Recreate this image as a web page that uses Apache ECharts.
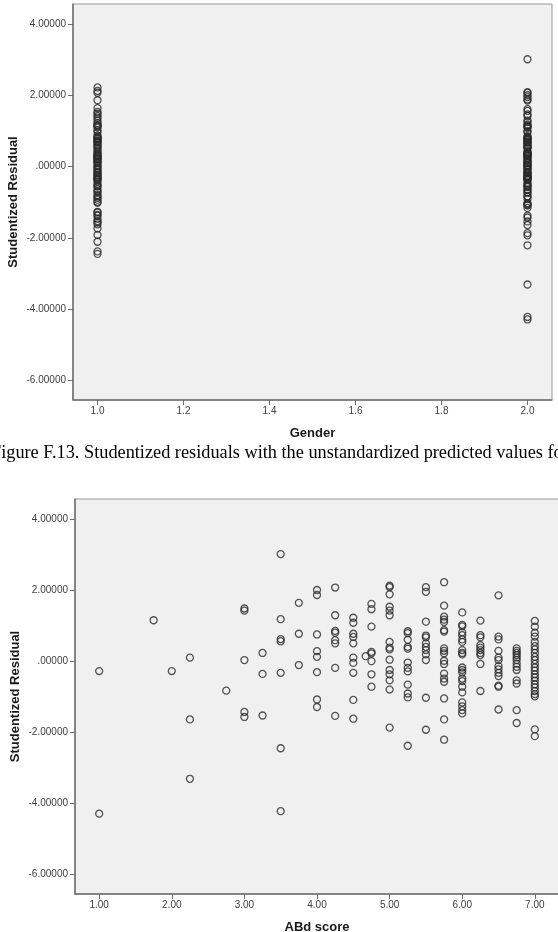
<!DOCTYPE html>
<html>
<head>
<meta charset="utf-8">
<title>Studentized residuals</title>
<script src="https://cdn.jsdelivr.net/npm/echarts@6.0.0/dist/echarts.min.js"></script>
<style>
  html, body { margin: 0; padding: 0; background: #fff; }
  #main { width: 558px; height: 932px; }
</style>
</head>
<body>
<div id="main"></div>
<script>
// top plot: residuals per gender
const genderOneResid = [2.22, 2.12, 2.07, 1.86, 1.64, 1.53, 1.48, 1.42, 1.37, 1.29, 1.22, 1.17, 1.15, 1.13, 1.10,
  1.02, 0.97, 0.87, 0.84, 0.80, 0.80, 0.77, 0.73, 0.72, 0.69, 0.67, 0.61, 0.59, 0.54, 0.50, 0.45, 0.40, 0.36,
  0.33, 0.31, 0.29, 0.26, 0.23, 0.22, 0.19, 0.14, 0.12, 0.10, 0.03, 0.01, -0.04, -0.08, -0.11, -0.16, -0.18,
  -0.23, -0.25, -0.28, -0.31, -0.33, -0.36, -0.37, -0.42, -0.49, -0.54, -0.56, -0.63, -0.69, -0.72, -0.80,
  -0.84, -0.88, -0.93, -0.99, -1.02, -1.27, -1.29, -1.36, -1.38, -1.47, -1.53, -1.57, -1.62, -1.74, -1.92,
  -2.11, -2.38, -2.45];
const genderTwoResid = [3.01, 2.08, 2.08, 2.00, 1.95, 1.88, 1.85, 1.61, 1.56, 1.46, 1.42, 1.29, 1.25, 1.18, 1.14,
  1.13, 1.11, 1.08, 0.98, 0.97, 0.85, 0.83, 0.81, 0.79, 0.77, 0.75, 0.73, 0.69, 0.68, 0.67, 0.62, 0.60, 0.56,
  0.54, 0.54, 0.50, 0.42, 0.38, 0.38, 0.36, 0.35, 0.33, 0.31, 0.29, 0.28, 0.23, 0.23, 0.17, 0.17, 0.12, 0.10,
  0.10, 0.04, 0.03, 0.03, 0.00, -0.05, -0.07, -0.08, -0.14, -0.18, -0.19, -0.19, -0.25, -0.27, -0.28, -0.29,
  -0.32, -0.33, -0.35, -0.37, -0.37, -0.46, -0.49, -0.54, -0.55, -0.58, -0.65, -0.66, -0.72, -0.74, -0.83,
  -0.84, -0.91, -1.03, -1.05, -1.08, -1.09, -1.16, -1.38, -1.43, -1.54, -1.64, -1.87, -1.93, -2.21, -3.31,
  -4.22, -4.29];

// bottom plot: residuals grouped by ABd score
const abdScores = [1.00, 1.75, 2.00, 2.25, 2.75, 3.00, 3.25, 3.50, 3.75, 4.00, 4.25, 4.50, 4.67, 4.75,
  5.00, 5.25, 5.50, 5.75, 6.00, 6.25, 6.50, 6.75, 7.00];
const abdResid = [
  [-0.28, -4.29],
  [1.15],
  [-0.28],
  [0.10, -1.64, -3.31],
  [-0.83],
  [1.48, 1.42, 0.03, -1.43, -1.57],
  [0.23, -0.36, -1.53],
  [3.01, 1.18, 0.62, 0.56, -0.33, -2.45, -4.22],
  [1.64, 0.77, -0.11],
  [2.00, 1.86, 0.75, 0.28, 0.12, -0.31, -1.08, -1.29],
  [2.07, 1.29, 0.85, 0.80, 0.59, 0.50, -0.19, -1.54],
  [1.22, 1.08, 0.77, 0.68, 0.50, 0.10, -0.05, -0.33, -1.09, -1.62],
  [0.14],
  [1.61, 1.46, 0.97, 0.26, 0.22, 0.00, -0.37, -0.72],
  [2.12, 2.08, 1.88, 1.53, 1.42, 1.29, 0.54, 0.38, 0.33, 0.04, -0.25, -0.37, -0.54, -0.80, -1.87],
  [0.84, 0.79, 0.60, 0.40, 0.35, -0.04, -0.19, -0.29, -0.66, -0.91, -1.02, -2.38],
  [2.08, 1.95, 1.11, 0.72, 0.67, 0.50, 0.40, 0.31, 0.19, 0.03, -1.03, -1.93],
  [2.22, 1.56, 1.25, 1.17, 1.10, 0.87, 0.83, 0.36, 0.29, 0.22, 0.01, -0.08, -0.35, -0.49, -0.58, -1.05, -1.64, -2.21],
  [1.37, 1.02, 0.98, 0.81, 0.73, 0.61, 0.54, 0.31, 0.23, 0.19, -0.18, -0.25, -0.32, -0.49, -0.56, -0.72, -0.88,
    -1.16, -1.27, -1.38, -1.47],
  [1.14, 0.73, 0.67, 0.45, 0.38, 0.31, 0.23, 0.17, -0.08, -0.84],
  [1.85, 0.69, 0.61, 0.29, 0.10, 0.03, -0.14, -0.23, -0.33, -0.42, -0.69, -0.72, -1.36],
  [0.36, 0.29, 0.23, 0.17, 0.10, 0.03, -0.07, -0.16, -0.25, -0.54, -0.63, -1.38, -1.74],
  [1.13, 0.97, 0.80, 0.69, 0.54, 0.42, 0.33, 0.23, 0.12, 0.03, -0.08, -0.18, -0.27, -0.37, -0.46, -0.55,
    -0.65, -0.74, -0.84, -0.93, -0.99, -1.92, -2.11]
];

const residTicks = [-6, -4, -2, 0, 2, 4];
const genderTicks = [1.0, 1.2, 1.4, 1.6, 1.8, 2.0];
const abdTicks = [1, 2, 3, 4, 5, 6, 7];

const captionText = 'Figure F.13. Studentized residuals with the unstandardized predicted values for';

// build scatter pairs
let genderData = [];
genderOneResid.forEach(v => genderData.push([1, v]));
genderTwoResid.forEach(v => genderData.push([2, v]));
let abdData = [];
abdScores.forEach((s, i) => {
  abdResid[i].forEach(v => abdData.push([s, v]));
});

const labelFont = { color: '#404040', fontSize: 10, fontFamily: 'Liberation Sans, Arial, sans-serif' };
const nameFont = { color: '#1a1a1a', fontSize: 13, fontWeight: 'bold', fontFamily: 'Liberation Sans, Arial, sans-serif' };

function residAxis(gridIndex) {
  return {
    gridIndex: gridIndex,
    type: 'value',
    min: -6.55,
    max: 4.56,
    name: 'Studentized Residual',
    nameLocation: 'middle',
    nameGap: 53,
    nameMoveOverlap: false,
    nameTextStyle: nameFont,
    axisLine: { show: true, lineStyle: { color: '#6e6e6e', width: 1.5 } },
    axisTick: { show: true, length: 5, customValues: residTicks, lineStyle: { color: '#6e6e6e' } },
    axisLabel: Object.assign({
      margin: 7,
      customValues: residTicks,
      formatter: v => v === 0 ? '.00000' : v.toFixed(5)
    }, labelFont),
    splitLine: { show: false }
  };
}

function xAxisOf(gridIndex, name, min, max, ticks, digits) {
  return {
    gridIndex: gridIndex,
    type: 'value',
    min: min,
    max: max,
    name: name,
    nameLocation: 'middle',
    nameGap: 27,
    nameMoveOverlap: false,
    nameTextStyle: nameFont,
    axisLine: { show: true, onZero: false, lineStyle: { color: '#6e6e6e', width: 1.5 } },
    axisTick: { show: true, length: 5, customValues: ticks, lineStyle: { color: '#6e6e6e' } },
    axisLabel: Object.assign({
      margin: 6,
      customValues: ticks,
      formatter: v => v.toFixed(digits)
    }, labelFont),
    splitLine: { show: false }
  };
}

const markStyle = {
  color: 'rgba(0,0,0,0)',
  borderColor: '#2a2a2a',
  borderWidth: 1.3
};

const chart = echarts.init(document.getElementById('main'));
chart.setOption({
  backgroundColor: '#fff',
  animation: false,
  grid: [
    { left: 73, top: 4, width: 479, height: 396, containLabel: false, outerBoundsMode: 'none',
      show: true, backgroundColor: '#f0f0f0', borderColor: '#999', borderWidth: 1 },
    { left: 75, top: 499, width: 484, height: 395, containLabel: false, outerBoundsMode: 'none',
      show: true, backgroundColor: '#f0f0f0', borderColor: '#999', borderWidth: 1 }
  ],
  xAxis: [
    xAxisOf(0, 'Gender', 0.943, 2.057, genderTicks, 1),
    xAxisOf(1, 'ABd score', 0.667, 7.333, abdTicks, 2)
  ],
  yAxis: [residAxis(0), residAxis(1)],
  graphic: [
    {
      type: 'text',
      left: -9,
      top: 444,
      style: {
        text: captionText,
        fill: '#000',
        font: '18.3px "Liberation Serif", "Times New Roman", serif'
      }
    }
  ],
  series: [
    {
      type: 'scatter',
      xAxisIndex: 0,
      yAxisIndex: 0,
      symbol: 'circle',
      symbolSize: 7,
      itemStyle: markStyle,
      data: genderData
    },
    {
      type: 'scatter',
      xAxisIndex: 1,
      yAxisIndex: 1,
      symbol: 'circle',
      symbolSize: 7,
      itemStyle: markStyle,
      data: abdData
    }
  ]
});
</script>
</body>
</html>
